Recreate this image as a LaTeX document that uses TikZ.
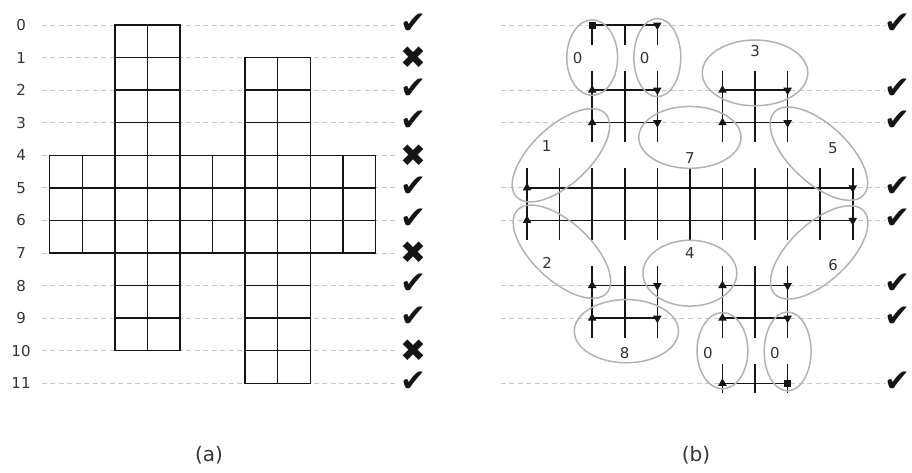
\documentclass[tikz,border=0pt]{standalone}
\usepackage{fontspec}
\setmainfont{DejaVu Sans}
\usetikzlibrary{shapes.geometric}
\definecolor{cInk}  {HTML}{151515}
\definecolor{cText} {HTML}{333333}
\definecolor{cGuide}{HTML}{C8C8C8}
\definecolor{cBlob} {HTML}{B2B2B2}
\tikzset{
  cellbox/.style={draw=cInk,fill=white,line width=1.4pt},
  guide/.style  ={draw=cGuide,line width=0.8pt,dash pattern=on 5pt off 3.5pt},
  rowlbl/.style ={font=\fontsize{15}{18}\selectfont,text=cText,inner sep=0pt},
  okmark/.style ={font=\fontsize{31}{31}\selectfont,text=cInk,inner sep=0pt},
  nomark/.style ={font=\fontsize{31}{31}\selectfont,text=cInk,inner sep=0pt},
  seg/.style    ={draw=cInk,line width=1.5pt},
  link/.style   ={draw=cInk,line width=1.5pt},
  upmk/.style   ={regular polygon,regular polygon sides=3,fill=cInk,
                  inner sep=0pt,minimum size=10pt},
  dnmk/.style   ={upmk,shape border rotate=180},
  sqmk/.style   ={rectangle,fill=cInk,inner sep=0pt,minimum size=7pt},
  blob/.style   ={draw=cBlob,line width=1.5pt},
  blobnum/.style={font=\fontsize{15}{18}\selectfont,text=cText,inner sep=0pt},
  panelcap/.style={font=\fontsize{20}{24}\selectfont,text=cText,inner sep=0pt},
}

\begin{document}
\begin{tikzpicture}[x=32.57pt,y=-32.57pt]
\useasboundingbox (-1.526,-0.768) rectangle (26.474,13.724);

% --- (a): row guides, row numbers, verdicts ------------------------------
\foreach \r in {0,...,11} {
  \draw[guide] (-0.24,\r) -- (10.6,\r);
  \node[rowlbl] (ra\r) at (-0.88,\r) {\r};
}
\foreach \r in {0,2,3,5,6,8,9,11}
  \node[okmark] (ka\r) at (11.18,\r-0.05) {✔};
\foreach \r in {1,4,7,10}
  \node[nomark] (ka\r) at (11.18,\r) {✖};

% --- (a): the cells ---------------------------------------------------------
\foreach \c in {2,3} \foreach \r in {0,...,9}
  \draw[cellbox] (\c,\r) rectangle ++(1,1);
\foreach \c in {6,7} \foreach \r in {1,...,10}
  \draw[cellbox] (\c,\r) rectangle ++(1,1);
\foreach \c in {0,...,9} \foreach \r in {4,5,6}
  \draw[cellbox] (\c,\r) rectangle ++(1,1);

\node[panelcap] (capa) at (4.89,13.2) {(a)};

% --- (b): same grid, rows 1, 4, 7, 10 cut out ------------------------------
\begin{scope}[shift={(14.655,0)}]
\foreach \r in {0,2,3,5,6,8,9,11} {
  \draw[guide] (-0.8,\r) -- (11.02,\r);
  \node[okmark] (kb\r) at (11.36,\r-0.05) {✔};
}

% vertical pieces
\foreach \c in {2,3,4}
  \draw[seg] (\c,0) -- (\c,0.6);
\foreach \c in {2,3,4,6,7,8} {
  \draw[seg] (\c,1.4) -- (\c,3.6);
  \draw[seg] (\c,7.4) -- (\c,9.6);
}
\foreach \c in {0,...,10}
  \draw[seg] (\c,4.4) -- (\c,6.6);
\foreach \c in {6,7,8}
  \draw[seg] (\c,10.4) -- (\c,11.3);

% horizontal links with end marks
\node[sqmk] (lt0) at (2,0) {};
\node[dnmk] (rt0) at (4,0) {};
\draw[link] (lt0.center) -- (rt0.center);
\foreach \r/\a/\b/\n in {2/2/4/a2,3/2/4/a3,2/6/8/b2,3/6/8/b3,
                         5/0/10/w5,6/0/10/w6,
                         8/2/4/a8,9/2/4/a9,8/6/8/b8,9/6/8/b9} {
  \node[upmk] (lt\n) at (\a,\r) {};
  \node[dnmk] (rt\n) at (\b,\r) {};
  \draw[link] (lt\n.center) -- (rt\n.center);
}
\node[upmk] (lt11) at (6,11) {};
\node[sqmk] (rt11) at (8,11) {};
\draw[link] (lt11.center) -- (rt11.center);

% grey groups and their numbers
\draw[blob] (2,1) ellipse [x radius=0.78, y radius=1.16];
\node[blobnum] (g0a) at (1.55,1.02) {0};
\draw[blob] (4,1) ellipse [x radius=0.72, y radius=1.2];
\node[blobnum] (g0b) at (3.61,1.02) {0};
\draw[blob] (7,1.47) ellipse [x radius=1.62, y radius=1.01];
\node[blobnum] (g3) at (7,0.79) {3};
\draw[blob] (5,3.45) ellipse [x radius=1.57, y radius=0.95];
\node[blobnum] (g7) at (5,4.09) {7};
\draw[blob,rotate around={43:(1.04,4)}] (1.04,4)
  ellipse [x radius=1.87, y radius=0.89];
\node[blobnum] (g1) at (0.6,3.71) {1};
\draw[blob,rotate around={-43:(8.96,3.95)}] (8.96,3.95)
  ellipse [x radius=1.87, y radius=0.89];
\node[blobnum] (g5) at (9.39,3.77) {5};
\draw[blob,rotate around={-43:(1.07,6.96)}] (1.07,6.96)
  ellipse [x radius=1.87, y radius=0.89];
\node[blobnum] (g2) at (0.62,7.3) {2};
\draw[blob,rotate around={43:(8.97,6.98)}] (8.97,6.98)
  ellipse [x radius=1.87, y radius=0.89];
\node[blobnum] (g6) at (9.4,7.37) {6};
\draw[blob] (5,7.62) ellipse [x radius=1.44, y radius=1.01];
\node[blobnum] (g4) at (5,6.99) {4};
\draw[blob] (3.05,9.4) ellipse [x radius=1.6, y radius=0.97];
\node[blobnum] (g8) at (3,10.08) {8};
\draw[blob] (6,10) ellipse [x radius=0.78, y radius=1.17];
\node[blobnum] (g0c) at (5.55,10.08) {0};
\draw[blob] (8,10.02) ellipse [x radius=0.72, y radius=1.21];
\node[blobnum] (g0d) at (7.61,10.08) {0};

\node[panelcap] (capb) at (5.19,13.2) {(b)};
\end{scope}
\end{tikzpicture}
\end{document}
